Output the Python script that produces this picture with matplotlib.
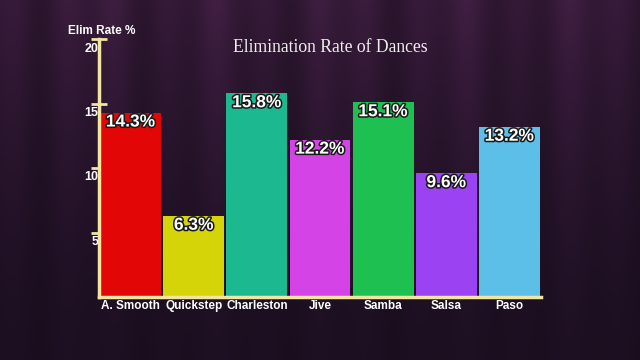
import numpy as np
import matplotlib
matplotlib.use("Agg")
import matplotlib.pyplot as plt
import matplotlib.patheffects as pe
from matplotlib.transforms import ScaledTranslation

categories = ["A. Smooth", "Quickstep", "Charleston", "Jive", "Samba", "Salsa", "Paso"]
values = [14.3, 6.3, 15.8, 12.2, 15.1, 9.6, 13.2]
value_labels = ["14.3%", "6.3%", "15.8%", "12.2%", "15.1%", "9.6%", "13.2%"]
colors = ["#e20606", "#d4d408", "#1cb990", "#d443e6", "#1fc052", "#9b42f2", "#5bbfe8"]
yticks = [5, 10, 15, 20]
ytick_labels = ["5", "10", "15", "20"]
title = "Elimination Rate of Dances"
ylabel = "Elim Rate %"

W, H = 640, 360
fig = plt.figure(figsize=(W / 100, H / 100), dpi=100)

# background: dark purple curtain
bg = fig.add_axes([0, 0, 1, 1])
xx = np.linspace(0, 1, 640)
yy = np.linspace(0, 1, 360)[:, None]
stripes = 0.5 + 0.5 * np.sin(xx * 2 * np.pi * 9 + 1.3) * np.sin(xx * 2 * np.pi * 3.7)
base = np.array([0.12, 0.065, 0.14])
top = np.array([0.25, 0.12, 0.26])
vert = (1 - yy) ** 1.5
img = base[None, None, :] + (top - base)[None, None, :] * vert[..., None] * (0.6 + 0.4 * stripes[None, :, None])
img = img * (0.85 + 0.15 * stripes[None, :, None])
bg.imshow(np.clip(img, 0, 1), aspect="auto", extent=[0, 1, 0, 1], origin="upper")
bg.set_axis_off()

left, right = 99 / W, 541 / W
bottom, topy = 1 - 297 / H, 1 - 39 / H
ax = fig.add_axes([left, bottom, right - left, topy - bottom])
ax.patch.set_alpha(0)

x = np.arange(len(categories))
bars = ax.bar(x, values, width=0.965, color=colors, zorder=2)
ax.set_xlim(-0.5, len(categories) - 0.5)
ax.set_ylim(0, 20)

axis_col = "#f3e4a2"
for s in ["top", "right"]:
    ax.spines[s].set_visible(False)
ax.spines["left"].set_color(axis_col)
ax.spines["left"].set_linewidth(2.5)
ax.spines["bottom"].set_color(axis_col)
ax.spines["bottom"].set_linewidth(2.5)
ax.spines["left"].set_zorder(3)
ax.spines["bottom"].set_zorder(3)

ax.set_yticks(yticks)
ax.set_yticklabels(ytick_labels)
ax.tick_params(axis="y", direction="inout", length=11, width=2, color=axis_col,
               labelcolor="white", labelsize=9, pad=-5)
for lab in ax.get_yticklabels():
    lab.set_fontweight("bold")
    lab.set_fontfamily("Liberation Sans")
    lab.set_transform(lab.get_transform() + ScaledTranslation(0, -8 / 100, fig.dpi_scale_trans))

ax.set_xticks(x)
ax.set_xticklabels(categories)
ax.tick_params(axis="x", length=0, labelcolor="white", labelsize=8.5, pad=2)
for lab in ax.get_xticklabels():
    lab.set_fontweight("bold")
    lab.set_fontfamily("Liberation Sans")

for xi, v, lab in zip(x, values, value_labels):
    ax.text(xi, v, lab, ha="center", va="top", color="white", fontsize=12.5,
            fontweight="bold", family="Liberation Sans", zorder=4,
            transform=ax.transData + ScaledTranslation(0, -2 / 100, fig.dpi_scale_trans),
            path_effects=[pe.withStroke(linewidth=2.2, foreground="#1a1a1a")])

fig.text(102 / W, 1 - 31 / H, ylabel, ha="center", va="center", color="white",
         fontsize=8.5, fontweight="bold", family="Liberation Sans")
fig.text(330 / W, 1 - 47 / H, title, ha="center", va="center", color="#f2eef0",
         fontsize=12.7, family="Liberation Serif")

fig.savefig("out.png", dpi=100)
